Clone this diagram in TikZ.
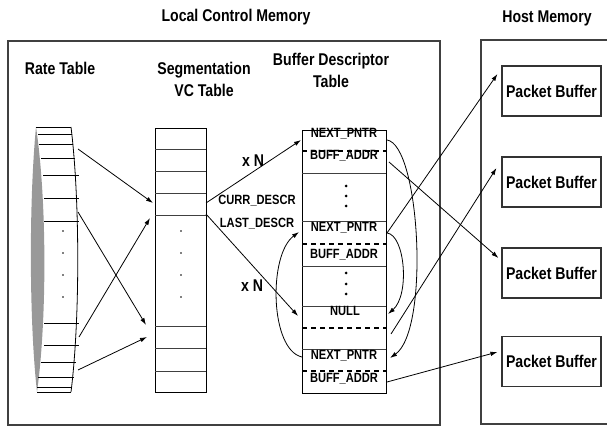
\documentclass[tikz,border=0pt]{standalone}
\usepackage{fontspec}
\setmainfont[FakeStretch=0.83]{Liberation Sans}
\usetikzlibrary{arrows.meta}

\tikzset{
  >={Latex[length=7pt,width=4.5pt]},
  membox/.style={draw=black!75, line width=1.4pt},
  heading/.style={font=\bfseries\fontsize{17}{21.5}\selectfont, align=center, inner sep=0pt, anchor=north},
  field/.style={font=\bfseries\fontsize{13.4}{15}\selectfont, inner sep=0pt, anchor=base},
  pktbuf/.style={draw=black!80, line width=1.1pt, minimum width=99pt, minimum height=50pt, inner sep=0pt, font=\bfseries\fontsize{17}{20}\selectfont},
  rowline/.style={draw=black!75},
  dashrow/.style={line width=1.3pt, dash pattern=on 5pt off 4pt},
}

\begin{document}
\begin{tikzpicture}[x=1pt, y=-1pt, line width=0.8pt]
  \useasboundingbox (0,0) rectangle (607,427);

  % Memory regions
  \draw[membox] (8,41) rectangle (440,425);
  \draw[membox] (607,40) -- (481,40) -- (481,424) -- (607,424);
  \node[heading] (lcmem) at (236,9) {Local Control Memory};
  \node[heading] (hostmem) at (547,10) {Host Memory};

  % Table headings
  \node[heading] (ratehd) at (60,62) {Rate Table};
  \node[heading] (vchd) at (204,62) {Segmentation\\VC Table};
  \node[heading] (bdhd) at (331,53) {Buffer Descriptor\\Table};

  % Rate table, drawn as a drum
  \fill[black!40] (36,127) .. controls (29,200) and (29,320) .. (37,392)
                  .. controls (47,320) and (47,200) .. (36,127);
  \draw (71,127) .. controls (80,200) and (80,320) .. (71,392);
  \foreach \y/\l/\r in {127/36/71, 134/38/72, 144/39/73, 158/41/75, 175/43/79,
                        198/44/79, 221/44/79, 323/44/79, 345/44/79, 362/41/76,
                        377/38/74, 387/37/72, 392/37/71}
    \draw (\l,\y) -- (\r,\y);
  \foreach \y in {231,253,275,297} \fill (63,\y) circle (0.9pt);

  % Segmentation VC table
  \draw (155,128) rectangle (206,392);
  \foreach \y in {149,171,193,215,326,348,371} \draw[rowline] (155,\y) -- (206,\y);
  \foreach \y in {231,253,275,297} \fill (181,\y) circle (0.9pt);

  % Buffer descriptor table
  \draw (302,130) rectangle (386,393);
  \foreach \y in {173,221,266,306,349} \draw[rowline] (302,\y) -- (386,\y);
  \foreach \y in {151,244,328,371} \draw[dashrow] (302,\y) -- (386,\y);
  \foreach \y in {186,196,206,273,284,294} \fill (346,\y) circle (1.5pt);
  \node[field] (next1) at (344,138) {NEXT\_PNTR};
  \node[field] (addr1) at (344,160) {BUFF\_ADDR};
  \node[field] (next2) at (344,232) {NEXT\_PNTR};
  \node[field] (addr2) at (344,259) {BUFF\_ADDR};
  \node[field] (null)  at (345,315) {NULL};
  \node[field] (next3) at (344,359) {NEXT\_PNTR};
  \node[field] (addr3) at (344,382) {BUFF\_ADDR};

  \node[field] (curr) at (257,205) {CURR\_DESCR};
  \node[field] (last) at (257,228) {LAST\_DESCR};
  \node[heading, anchor=base] (xn1) at (253,167) {x N};
  \node[heading, anchor=base] (xn2) at (252,291) {x N};

  % Packet buffers in host memory
  \node[pktbuf] (pb1) at (551.5,91) {Packet Buffer};
  \node[pktbuf] (pb2) at (551.5,182) {Packet Buffer};
  \node[pktbuf] (pb3) at (551.5,273) {Packet Buffer};
  \node[pktbuf] (pb4) at (551.5,361.5) {Packet Buffer};

  % Ports on the tables
  \coordinate (rt1) at (78,149);   \coordinate (vc1) at (153,203);
  \coordinate (rt2) at (78,212);   \coordinate (vc2) at (146,325);
  \coordinate (rt3) at (79,337);   \coordinate (vc3) at (150,218);
  \coordinate (rt4) at (78,370);   \coordinate (vc4) at (147,337);
  \coordinate (vcout1) at (206,203); \coordinate (bdin1) at (301,140);
  \coordinate (vcout2) at (206,214); \coordinate (bdin2) at (298,316);
  \coordinate (np1r) at (387,140); \coordinate (ba1r) at (389,162);
  \coordinate (np2l) at (299,232); \coordinate (np2r) at (387,233);
  \coordinate (nullr) at (388,314); \coordinate (emptyr) at (391,334);
  \coordinate (np3l) at (302,357); \coordinate (np3r) at (390,358);
  \coordinate (ba3r) at (387,382);

  % Rate table to VC table
  \draw[->] (rt1) -- (vc1);
  \draw[->] (rt2) -- (vc2);
  \draw[->] (rt3) -- (vc3);
  \draw[->] (rt4) -- (vc4);

  % VC table to descriptors
  \draw[->] (vcout1) -- (bdin1);
  \draw[->] (vcout2) -- (bdin2);

  % Descriptor chaining
  \draw[->] (np3l) .. controls (270,350) and (268,255) .. (np2l);
  \draw[->] (np1r) .. controls (420,145) and (430,330) .. (np3r);
  \draw[->] (np2r) .. controls (405,235) and (410,295) .. (nullr);

  % Descriptors to packet buffers
  \draw[->] (np2r) -- ([xshift=-4pt,yshift=17pt]pb1.west);
  \draw[->] (emptyr) -- ([xshift=-5pt,yshift=14pt]pb2.west);
  \draw[->] (ba1r) -- ([xshift=-3pt,yshift=15pt]pb3.west);
  \draw[->] (ba3r) -- ([xshift=-4pt,yshift=9.5pt]pb4.west);
\end{tikzpicture}
\end{document}
